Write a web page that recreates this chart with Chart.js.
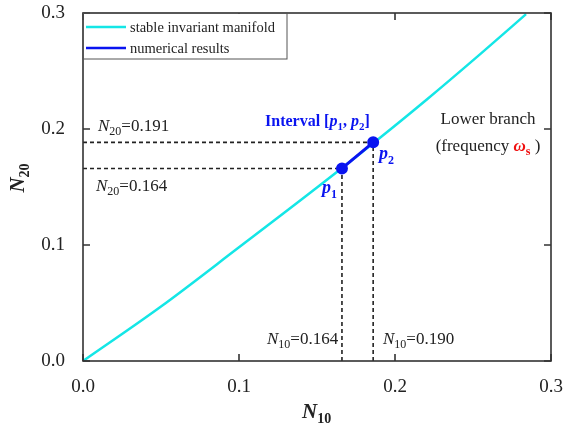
<!DOCTYPE html>
<html>
<head>
<meta charset="utf-8">
<script src="https://cdn.jsdelivr.net/npm/chart.js@4/dist/chart.umd.min.js"></script>
<style>
  html, body { margin: 0; padding: 0; background: #fff; }
  #wrap { width: 564px; height: 429px; }
</style>
</head>
<body>
<div id="wrap"><canvas id="c" width="564" height="429"></canvas></div>
<script>
// stable invariant manifold
const manifoldN10 = [0, 0.05, 0.1, 0.15, 0.19, 0.22, 0.255, 0.284];
const manifoldN20 = [0, 0.047, 0.098, 0.1495, 0.192, 0.225, 0.265, 0.299];

// numerical results: interval [p1, p2]
const intervalN10 = [0.166, 0.186];
const intervalN20 = [0.166, 0.1885];

const tickValues = [0, 0.1, 0.2, 0.3];

const CYAN = "#14e6e6";
const BLUE = "#0a14f0";
const SERIF = "'Liberation Serif', 'DejaVu Serif', serif";

const toXY = (xs, ys) => xs.map((x, i) => ({ x: x, y: ys[i] }));

// dashed guides from the axes to each interval end point
const guides = [];
intervalN10.forEach((x, i) => {
  const y = intervalN20[i];
  guides.push({
    data: [{ x: 0, y: y }, { x: x, y: y }],
    showLine: true, borderColor: "#222", borderWidth: 1.6, borderDash: [4, 3],
    pointRadius: 0, order: 3,
  });
  guides.push({
    data: [{ x: x, y: 0 }, { x: x, y: y }],
    showLine: true, borderColor: "#222", borderWidth: 1.6, borderDash: [4, 3],
    pointRadius: 0, order: 3,
  });
});

// draw a run of text pieces (for sub/superscripts)
function drawRich(ctx, x, y, parts, align) {
  let total = 0;
  parts.forEach(p => { ctx.font = p.f; total += ctx.measureText(p.t).width; });
  let cx = x;
  if (align === "center") cx = x - total / 2;
  ctx.textAlign = "left";
  ctx.textBaseline = "alphabetic";
  parts.forEach(p => {
    ctx.font = p.f;
    ctx.fillStyle = p.c || "#222";
    ctx.fillText(p.t, cx, y + (p.dy || 0));
    cx += ctx.measureText(p.t).width;
  });
}

const f = (size, style) => `${style || ""} ${size}px ${SERIF}`;

const decorations = {
  id: "decorations",
  afterDraw(chart) {
    const ctx = chart.ctx;
    const a = chart.chartArea;
    const xs = chart.scales.x, ys = chart.scales.y;
    ctx.save();

    // frame
    ctx.strokeStyle = "#333";
    ctx.lineWidth = 1.6;
    ctx.strokeRect(a.left, a.top, a.right - a.left, a.bottom - a.top);

    // inward ticks on all four sides
    const tl = 7;
    ctx.beginPath();
    tickValues.forEach(v => {
      const px = xs.getPixelForValue(v);
      ctx.moveTo(px, a.bottom); ctx.lineTo(px, a.bottom - tl);
      ctx.moveTo(px, a.top); ctx.lineTo(px, a.top + tl);
      const py = ys.getPixelForValue(v);
      ctx.moveTo(a.left, py); ctx.lineTo(a.left + tl, py);
      ctx.moveTo(a.right, py); ctx.lineTo(a.right - tl, py);
    });
    ctx.stroke();

    // legend box
    ctx.fillStyle = "#fff";
    ctx.fillRect(a.left + 1, a.top + 1, 203, 45);
    ctx.strokeStyle = "#555";
    ctx.lineWidth = 1;
    ctx.strokeRect(a.left, a.top, 204, 46);
    ctx.lineWidth = 2.5;
    ctx.strokeStyle = CYAN;
    ctx.beginPath(); ctx.moveTo(a.left + 3, a.top + 14); ctx.lineTo(a.left + 43, a.top + 14); ctx.stroke();
    ctx.strokeStyle = BLUE;
    ctx.beginPath(); ctx.moveTo(a.left + 3, a.top + 35); ctx.lineTo(a.left + 43, a.top + 35); ctx.stroke();
    drawRich(ctx, a.left + 47, a.top + 19, [{ t: "stable invariant manifold", f: f(14.5) }]);
    drawRich(ctx, a.left + 47, a.top + 40, [{ t: "numerical results", f: f(14.5) }]);

    // value annotations
    const nLabel = (x, y, sub, val) => drawRich(ctx, x, y, [
      { t: "N", f: f(17, "italic") },
      { t: sub, f: f(12), dy: 4 },
      { t: "=" + val, f: f(17) },
    ]);
    nLabel(98, 131, "20", "0.191");
    nLabel(96, 191, "20", "0.164");
    nLabel(267, 344, "10", "0.164");
    nLabel(383, 344, "10", "0.190");

    drawRich(ctx, 265, 126, [
      { t: "Interval [", f: f(16, "bold"), c: BLUE },
      { t: "p", f: f(16, "italic bold"), c: BLUE },
      { t: "1", f: f(11, "bold"), c: BLUE, dy: 4 },
      { t: ", ", f: f(16, "bold"), c: BLUE },
      { t: "p", f: f(16, "italic bold"), c: BLUE },
      { t: "2", f: f(11, "bold"), c: BLUE, dy: 4 },
      { t: "]", f: f(16, "bold"), c: BLUE },
    ]);
    drawRich(ctx, 322, 193, [
      { t: "p", f: f(18, "italic bold"), c: BLUE },
      { t: "1", f: f(12, "bold"), c: BLUE, dy: 5 },
    ]);
    drawRich(ctx, 379, 159, [
      { t: "p", f: f(18, "italic bold"), c: BLUE },
      { t: "2", f: f(12, "bold"), c: BLUE, dy: 5 },
    ]);

    drawRich(ctx, 488, 124, [{ t: "Lower branch", f: f(17) }], "center");
    drawRich(ctx, 488, 151, [
      { t: "(frequency ", f: f(17) },
      { t: "ω", f: f(17, "italic bold"), c: "#f01010" },
      { t: "s", f: f(12, "bold"), c: "#f01010", dy: 4 },
      { t: " )", f: f(17) },
    ], "center");

    // axis titles
    drawRich(ctx, 302, 418, [
      { t: "N", f: f(21, "italic bold") },
      { t: "10", f: f(14, "bold"), dy: 5 },
    ]);
    ctx.translate(24, 178);
    ctx.rotate(-Math.PI / 2);
    drawRich(ctx, 0, 0, [
      { t: "N", f: f(21, "italic bold") },
      { t: "20", f: f(14, "bold"), dy: 5 },
    ], "center");

    ctx.restore();
  },
};

const config = {
  type: "scatter",
  data: {
    datasets: [
      {
        label: "stable invariant manifold",
        data: toXY(manifoldN10, manifoldN20),
        showLine: true, borderColor: CYAN, borderWidth: 2.5,
        pointRadius: 0, cubicInterpolationMode: "monotone", order: 2,
      },
      {
        label: "numerical results",
        data: toXY(intervalN10, intervalN20),
        showLine: true, borderColor: BLUE, borderWidth: 3,
        pointRadius: 4.5, pointBackgroundColor: BLUE, pointBorderColor: BLUE, order: 1,
      },
      ...guides,
    ],
  },
  options: {
    responsive: false,
    animation: false,
    layout: { padding: { top: 13, right: 13, left: 0, bottom: 0 } },
    plugins: { legend: { display: false }, tooltip: { enabled: false } },
    scales: {
      x: {
        type: "linear", min: 0, max: 0.3,
        afterFit: s => { s.height = 68; s.paddingLeft = 0; s.paddingRight = 0; },
        afterBuildTicks: s => { s.ticks = tickValues.map(v => ({ value: v })); },
        grid: { display: false }, border: { display: false },
        ticks: {
          padding: 7, color: "#222", maxRotation: 0,
          font: { family: SERIF, size: 19 },
          callback: v => v.toFixed(1),
        },
      },
      y: {
        type: "linear", min: 0, max: 0.3,
        afterFit: s => { s.width = 83; s.paddingTop = 0; s.paddingBottom = 0; },
        afterBuildTicks: s => { s.ticks = tickValues.map(v => ({ value: v })); },
        grid: { display: false }, border: { display: false },
        ticks: {
          padding: 10, color: "#222",
          font: { family: SERIF, size: 19 },
          callback: v => v.toFixed(1),
        },
      },
    },
  },
  plugins: [decorations],
};

new Chart(document.getElementById("c"), config);
</script>
</body>
</html>
